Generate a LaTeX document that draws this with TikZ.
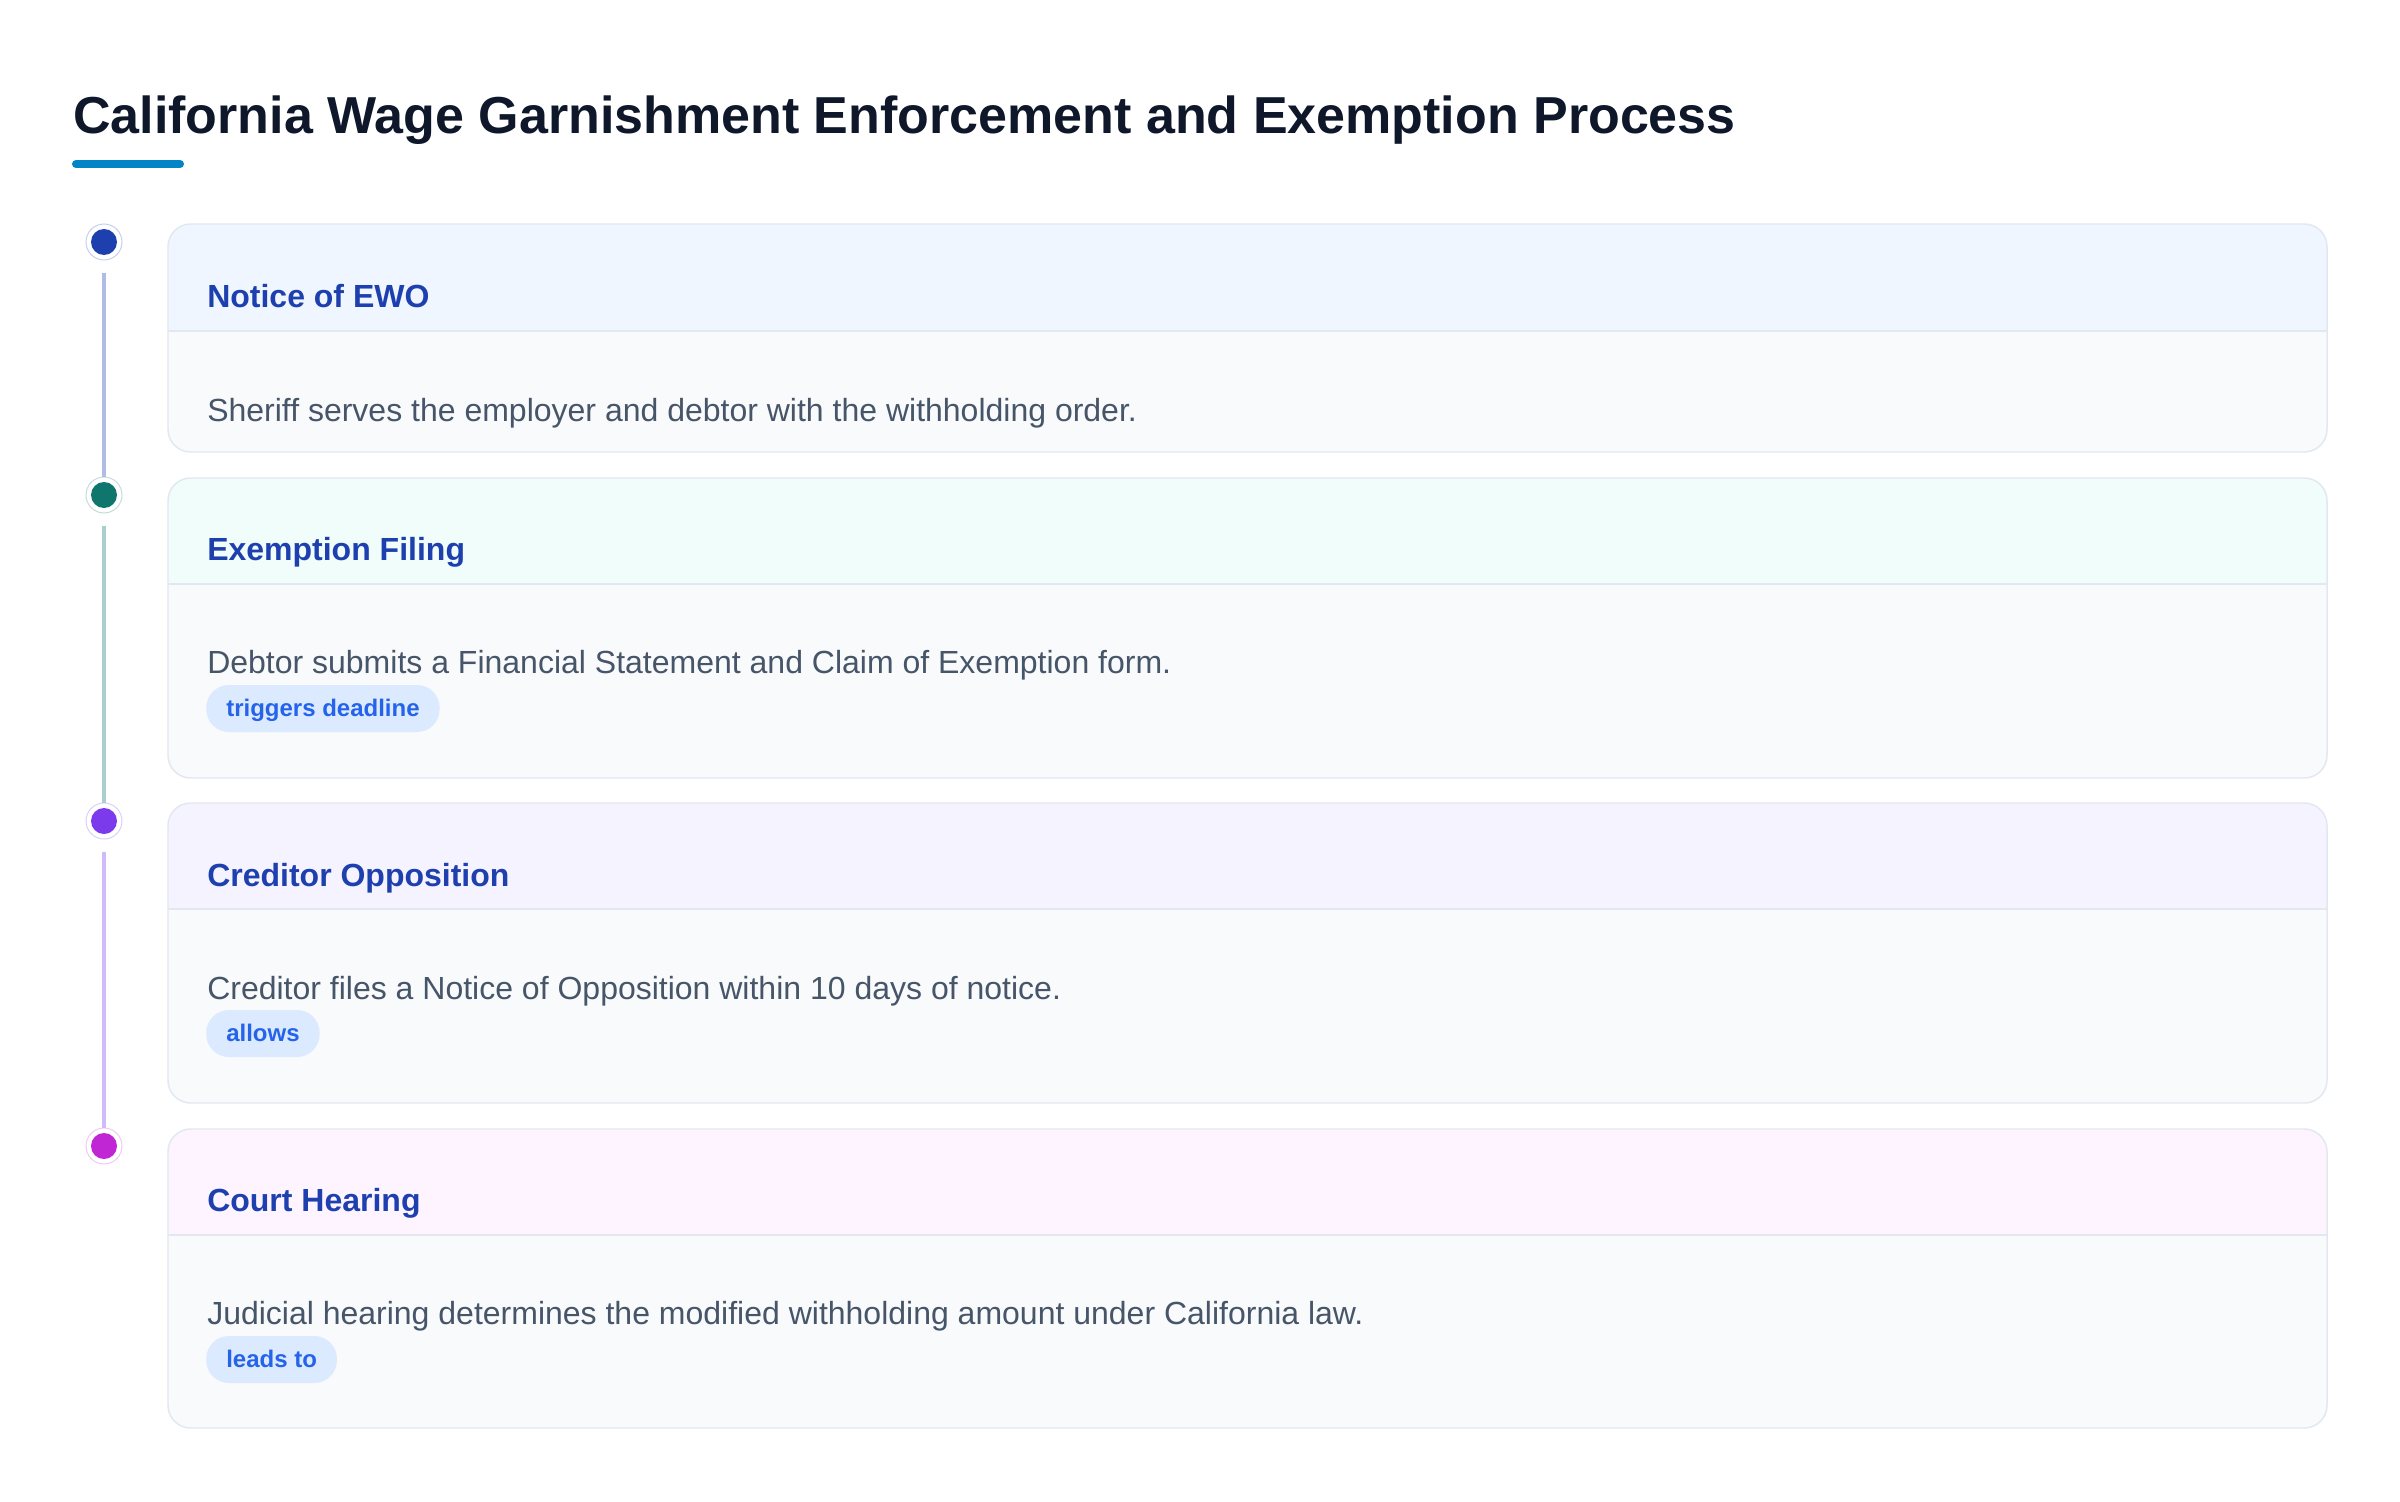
\documentclass[tikz,border=0pt]{standalone}
\usepackage{fontspec}
\setmainfont{Liberation Sans}
\definecolor{ink}{HTML}{0F172A}
\definecolor{accent}{HTML}{0284C7}
\definecolor{headink}{HTML}{1E40AF}
\definecolor{bodyink}{HTML}{475569}
\definecolor{tagink}{HTML}{2563EB}
\definecolor{tagfill}{HTML}{DBEAFE}
\definecolor{cardfill}{HTML}{F8FAFC}
\definecolor{cardline}{HTML}{E2E8F0}
\definecolor{pinA}{HTML}{1E40AF}
\definecolor{pinB}{HTML}{0F766E}
\definecolor{pinC}{HTML}{7C3AED}
\definecolor{pinD}{HTML}{C026D3}
\definecolor{hdA}{HTML}{EFF6FF}
\definecolor{hdB}{HTML}{F0FDFA}
\definecolor{hdC}{HTML}{F5F3FF}
\definecolor{hdD}{HTML}{FDF4FF}
\tikzset{
  card/.style={draw=cardline, line width=1.1pt, rounded corners=17pt},
  divider/.style={draw=cardline, line width=1.1pt},
  dot/.style={circle, minimum size=27pt, inner sep=0pt, fill=white, draw=#1!25, line width=0.75pt},
  rail/.style={draw=#1!35, line width=3pt, shorten <=9pt},
  head/.style={anchor=base west, inner sep=0pt, text=headink, font=\bfseries\fontsize{24}{28}\selectfont},
  body/.style={anchor=base west, inner sep=0pt, text=bodyink, font=\fontsize{24}{28}\selectfont},
  tag/.style={anchor=west, rounded corners=17pt, fill=tagfill, text=tagink, font=\bfseries\fontsize{18}{22}\selectfont,
    inner xsep=15pt, inner ysep=0pt, minimum height=35.25pt, text height=15pt, text depth=3pt}
}
\begin{document}
\begin{tikzpicture}[x=0.75pt,y=0.75pt,yscale=-1,xscale=1]
%set diagram to the page: 2400 wide, 1502 high
\fill[white] (0,0) rectangle (2400,1502);
\useasboundingbox (0,0) rectangle (2400,1502);

% Title
\node[anchor=base west, inner sep=0pt, text=ink, font=\bfseries\fontsize{39}{44}\selectfont] (title) at (73,133) {California Wage Garnishment Enforcement and Exemption Process};
\draw[accent, line width=6pt, line cap=round] (76,164) -- (180,164);

%Shape: Card A
\begin{scope}
\clip[rounded corners=17pt] (168,224) rectangle (2327,452);
\fill[cardfill] (168,224) rectangle (2327,452);
\fill[hdA] (168,224) rectangle (2327,331);
\end{scope}
\draw[card] (168,224) rectangle (2327,452);
\draw[divider] (168,331) -- (2327,331);
%Shape: Card B
\begin{scope}
\clip[rounded corners=17pt] (168,478) rectangle (2327,778);
\fill[cardfill] (168,478) rectangle (2327,778);
\fill[hdB] (168,478) rectangle (2327,584);
\end{scope}
\draw[card] (168,478) rectangle (2327,778);
\draw[divider] (168,584) -- (2327,584);
%Shape: Card C
\begin{scope}
\clip[rounded corners=17pt] (168,803) rectangle (2327,1103);
\fill[cardfill] (168,803) rectangle (2327,1103);
\fill[hdC] (168,803) rectangle (2327,909);
\end{scope}
\draw[card] (168,803) rectangle (2327,1103);
\draw[divider] (168,909) -- (2327,909);
%Shape: Card D
\begin{scope}
\clip[rounded corners=17pt] (168,1129) rectangle (2327,1428);
\fill[cardfill] (168,1129) rectangle (2327,1428);
\fill[hdD] (168,1129) rectangle (2327,1235);
\end{scope}
\draw[card] (168,1129) rectangle (2327,1428);
\draw[divider] (168,1235) -- (2327,1235);

% Timeline dots
\node[dot=pinA] (dotA) at (104,242) {};
\node[dot=pinB] (dotB) at (104,495) {};
\node[dot=pinC] (dotC) at (104,821) {};
\node[dot=pinD] (dotD) at (104,1146) {};
\fill[pinA] (dotA) circle[radius=9.75pt];
\fill[pinB] (dotB) circle[radius=9.75pt];
\fill[pinC] (dotC) circle[radius=9.75pt];
\fill[pinD] (dotD) circle[radius=9.75pt];
%Straight Lines
\draw[rail=pinA] (dotA) -- (dotB);
\draw[rail=pinB] (dotB) -- (dotC);
\draw[rail=pinC] (dotC) -- (dotD);

% Text Node
\node[head] (headA) at (207,307) {Notice of EWO};
\node[body] (bodyA) at (207,421) {Sheriff serves the employer and debtor with the withholding order.};
% Text Node
\node[head] (headB) at (207,560) {Exemption Filing};
\node[body] (bodyB) at (207,673) {Debtor submits a Financial Statement and Claim of Exemption form.};
\node[tag] (tagB) at (206,708.5) {triggers deadline};
% Text Node
\node[head] (headC) at (207,886) {Creditor Opposition};
\node[body] (bodyC) at (207,999) {Creditor files a Notice of Opposition within 10 days of notice.};
\node[tag] (tagC) at (206,1033.5) {allows};
% Text Node
\node[head] (headD) at (207,1211) {Court Hearing};
\node[body] (bodyD) at (207,1324) {Judicial hearing determines the modified withholding amount under California law.};
\node[tag] (tagD) at (206,1359.5) {leads to};

\end{tikzpicture}
\end{document}
